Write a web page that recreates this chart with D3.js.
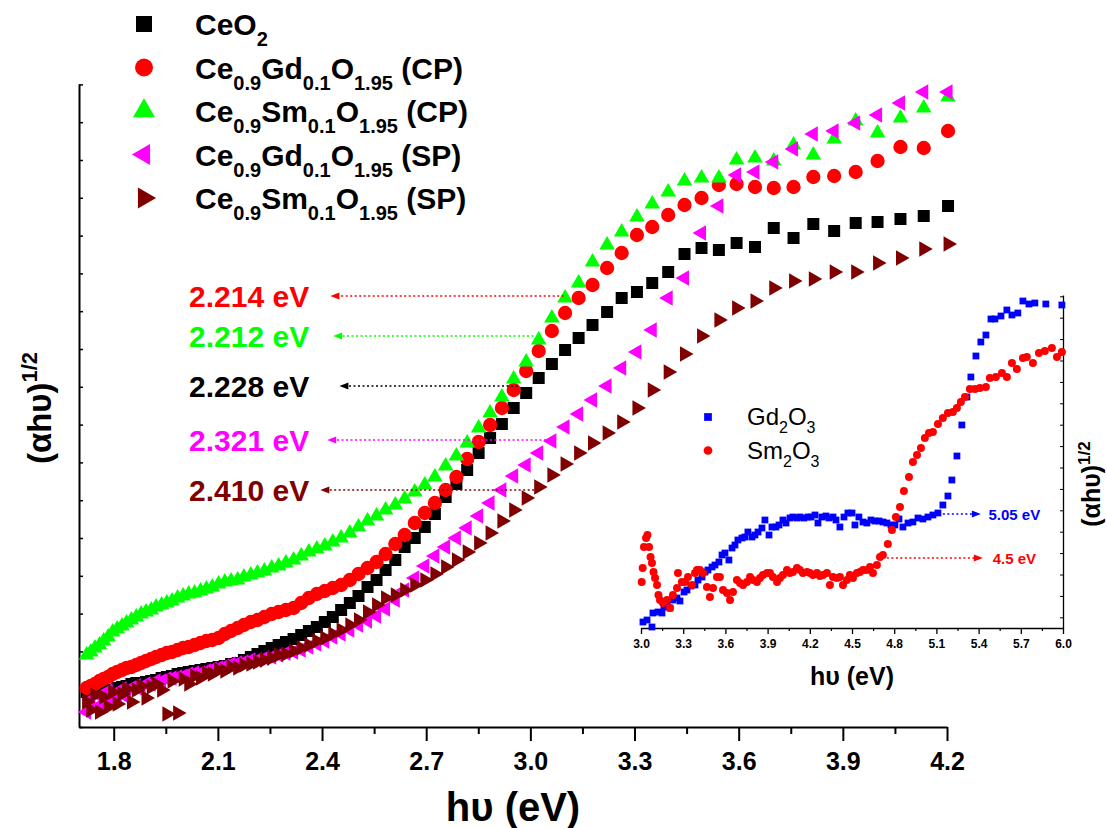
<!DOCTYPE html>
<html>
<head>
<meta charset="utf-8">
<script src="https://cdnjs.cloudflare.com/ajax/libs/d3/7.8.5/d3.min.js"></script>
<style>
  body { margin: 0; background: #fff; }
  svg { font-family: "Liberation Sans", Arial, sans-serif; }
  text { white-space: pre; }
</style>
</head>
<body>
<svg id="chart" width="1107" height="828"></svg>
<script>
// photon energy (eV), shared by the five ceria samples
const energy = [
  1.722, 1.734, 1.746, 1.759, 1.771, 1.784, 1.797, 1.810, 1.824, 1.837,
  1.851, 1.865, 1.879, 1.893, 1.908, 1.922, 1.938, 1.953, 1.968, 1.984,
  2.000, 2.016, 2.033, 2.050, 2.067, 2.084, 2.102, 2.120, 2.138, 2.157,
  2.175, 2.195, 2.214, 2.234, 2.255, 2.275, 2.296, 2.318, 2.340, 2.362,
  2.385, 2.408, 2.431, 2.455, 2.480, 2.505, 2.531, 2.557, 2.583, 2.611,
  2.638, 2.667, 2.696, 2.725, 2.756, 2.787, 2.818, 2.851, 2.884, 2.918,
  2.952, 2.988, 3.024, 3.062, 3.100, 3.139, 3.179, 3.221, 3.263, 3.307,
  3.351, 3.397, 3.444, 3.493, 3.543, 3.594, 3.647, 3.701, 3.758, 3.815,
  3.875, 3.937, 4.000, 4.066, 4.133, 4.203
];

// (alpha h nu)^1/2, arbitrary units
const ceo2 = [
  0.35, 0.35, 0.36, 0.36, 0.37, 0.37, 0.37, 0.39, 0.40, 0.41,
  0.43, 0.44, 0.44, 0.45, 0.46, 0.47, 0.49, 0.50, 0.51, 0.53,
  0.54, 0.55, 0.56, 0.57, 0.58, 0.59, 0.60, 0.61, 0.63, 0.64,
  0.67, 0.70, 0.73, 0.76, 0.79, 0.82, 0.85, 0.88, 0.92, 0.96,
  1.00, 1.05, 1.10, 1.17, 1.24, 1.31, 1.40, 1.47, 1.57, 1.67,
  1.80, 1.89, 2.00, 2.13, 2.30, 2.43, 2.57, 2.74, 2.89, 3.03,
  3.19, 3.34, 3.49, 3.63, 3.77, 3.89, 4.02, 4.15, 4.29, 4.35,
  4.44, 4.55, 4.73, 4.79, 4.77, 4.84, 4.80, 4.99, 4.89, 5.03,
  4.96, 5.04, 5.05, 5.08, 5.11, 5.21
];
const gdcCP = [
  0.39, 0.41, 0.43, 0.46, 0.48, 0.50, 0.53, 0.55, 0.57, 0.59,
  0.60, 0.62, 0.64, 0.66, 0.68, 0.70, 0.72, 0.74, 0.75, 0.77,
  0.79, 0.80, 0.82, 0.84, 0.86, 0.87, 0.89, 0.93, 0.96, 0.99,
  1.02, 1.05, 1.07, 1.10, 1.13, 1.15, 1.17, 1.19, 1.24, 1.29,
  1.33, 1.36, 1.39, 1.42, 1.47, 1.53, 1.59, 1.65, 1.73, 1.83,
  1.92, 2.04, 2.14, 2.24, 2.37, 2.50, 2.68, 2.85, 3.02, 3.19,
  3.37, 3.56, 3.76, 3.96, 4.14, 4.29, 4.42, 4.59, 4.74, 4.92,
  5.00, 5.12, 5.22, 5.29, 5.42, 5.43, 5.40, 5.39, 5.40, 5.50,
  5.51, 5.55, 5.66, 5.80, 5.79, 5.96
];
const smcCP = [
  0.72, 0.75, 0.79, 0.82, 0.86, 0.90, 0.95, 0.98, 1.01, 1.04,
  1.07, 1.10, 1.13, 1.15, 1.17, 1.20, 1.22, 1.24, 1.26, 1.29,
  1.31, 1.33, 1.34, 1.36, 1.38, 1.40, 1.43, 1.45, 1.46, 1.47,
  1.50, 1.52, 1.54, 1.56, 1.59, 1.61, 1.64, 1.67, 1.71, 1.75,
  1.78, 1.81, 1.85, 1.89, 1.94, 2.00, 2.06, 2.11, 2.17, 2.22,
  2.28, 2.35, 2.42, 2.50, 2.61, 2.71, 2.84, 2.99, 3.14, 3.30,
  3.48, 3.65, 3.87, 4.09, 4.29, 4.44, 4.65, 4.82, 4.95, 5.10,
  5.23, 5.35, 5.46, 5.49, 5.49, 5.67, 5.69, 5.66, 5.82, 5.72,
  5.88, 6.06, 5.94, 6.09, 6.19, 6.30
];
const gdcSP = [
  0.15, 0.27, 0.19, 0.31, 0.22, 0.36, 0.25, 0.32, 0.38, 0.30,
  0.39, 0.41, 0.37, 0.43, 0.43, 0.46, 0.46, 0.48, 0.49, 0.50,
  0.51, 0.53, 0.54, 0.54, 0.56, 0.58, 0.59, 0.61, 0.63, 0.64,
  0.65, 0.67, 0.67, 0.69, 0.70, 0.72, 0.74, 0.75, 0.77, 0.80,
  0.83, 0.86, 0.90, 0.93, 0.97, 1.02, 1.06, 1.11, 1.18, 1.27,
  1.37, 1.49, 1.61, 1.71, 1.80, 1.89, 1.99, 2.11, 2.24, 2.37,
  2.51, 2.62, 2.74, 2.86, 3.00, 3.13, 3.27, 3.41, 3.59, 3.75,
  3.97, 4.29, 4.49, 4.94, 5.21, 5.52, 5.55, 5.65, 5.78, 5.93,
  5.96, 6.04, 6.12, 6.24, 6.35, 6.35
];
const smcSP = [
  0.25, 0.17, 0.32, 0.15, 0.30, 0.20, 0.35, 0.23, 0.33, 0.38,
  0.25, 0.37, 0.41, 0.29, 0.40, 0.43, 0.37, 0.13, 0.46, 0.14,
  0.48, 0.43, 0.51, 0.49, 0.54, 0.53, 0.57, 0.56, 0.60, 0.59,
  0.62, 0.63, 0.65, 0.67, 0.69, 0.72, 0.73, 0.76, 0.79, 0.82,
  0.86, 0.89, 0.93, 0.97, 1.02, 1.07, 1.15, 1.22, 1.29, 1.32,
  1.37, 1.42, 1.47, 1.53, 1.60, 1.67, 1.75, 1.84, 1.94, 2.06,
  2.17, 2.29, 2.40, 2.52, 2.63, 2.74, 2.84, 2.94, 3.05, 3.19,
  3.37, 3.55, 3.73, 3.91, 4.07, 4.19, 4.26, 4.39, 4.46, 4.48,
  4.55, 4.55, 4.64, 4.69, 4.78, 4.83
];

// inset: pure rare-earth oxides
const gd2o3E = [
  3.014, 3.043, 3.078, 3.085, 3.121, 3.149, 3.163, 3.185, 3.206, 3.227,
  3.256, 3.277, 3.306, 3.327, 3.355, 3.384, 3.405, 3.434, 3.455, 3.476,
  3.505, 3.526, 3.554, 3.576, 3.597, 3.625, 3.647, 3.668, 3.689, 3.718,
  3.739, 3.760, 3.789, 3.810, 3.832, 3.860, 3.881, 3.910, 3.931, 3.959,
  3.981, 4.009, 4.031, 4.059, 4.080, 4.109, 4.130, 4.158, 4.187, 4.208,
  4.237, 4.258, 4.286, 4.315, 4.336, 4.365, 4.386, 4.414, 4.443, 4.471,
  4.500, 4.521, 4.549, 4.578, 4.606, 4.635, 4.663, 4.692, 4.720, 4.748,
  4.777, 4.805, 4.834, 4.862, 4.898, 4.933, 4.969, 5.004, 5.040, 5.075,
  5.111, 5.146, 5.182, 5.210, 5.246, 5.281, 5.317, 5.345, 5.381, 5.416,
  5.452, 5.488, 5.516, 5.559, 5.601, 5.637, 5.679, 5.715, 5.758, 5.800,
  5.878, 5.992
];
const gd2o3 = [
  0.06, 0.08, 0.01, 0.15, 0.16, 0.15, 0.21, 0.23, 0.20, 0.28,
  0.30, 0.27, 0.36, 0.38, 0.42, 0.43, 0.48, 0.51, 0.56, 0.58,
  0.61, 0.63, 0.66, 0.73, 0.75, 0.68, 0.80, 0.83, 0.88, 0.90,
  0.91, 0.96, 0.91, 0.93, 0.96, 1.00, 1.08, 0.93, 1.01, 1.01,
  1.03, 1.08, 1.05, 1.10, 1.11, 1.10, 1.11, 1.10, 1.11, 1.11,
  1.13, 1.05, 1.11, 1.12, 1.10, 1.11, 1.08, 1.01, 1.11, 1.15,
  1.15, 1.03, 1.11, 1.06, 1.05, 1.08, 1.07, 1.07, 1.06, 1.05,
  1.03, 1.03, 1.09, 1.01, 1.05, 1.06, 1.10, 1.09, 1.11, 1.13,
  1.15, 1.23, 1.32, 1.48, 1.72, 2.03, 2.31, 2.51, 2.72, 2.86,
  2.93, 3.09, 3.09, 3.12, 3.18, 3.13, 3.15, 3.27, 3.24, 3.25,
  3.24, 3.23
];
const sm2o3E = [
  3.005, 3.012, 3.021, 3.036, 3.046, 3.057, 3.068, 3.078, 3.089, 3.100,
  3.114, 3.124, 3.135, 3.156, 3.185, 3.206, 3.227, 3.256, 3.263, 3.291,
  3.313, 3.334, 3.362, 3.384, 3.398, 3.419, 3.441, 3.469, 3.490, 3.512,
  3.540, 3.561, 3.583, 3.611, 3.633, 3.654, 3.682, 3.704, 3.725, 3.753,
  3.775, 3.796, 3.824, 3.846, 3.867, 3.896, 3.917, 3.938, 3.967, 3.988,
  4.009, 4.038, 4.059, 4.080, 4.109, 4.130, 4.151, 4.180, 4.201, 4.222,
  4.251, 4.272, 4.294, 4.322, 4.343, 4.365, 4.393, 4.414, 4.436, 4.464,
  4.485, 4.507, 4.535, 4.556, 4.578, 4.606, 4.628, 4.649, 4.677, 4.699,
  4.720, 4.755, 4.784, 4.812, 4.841, 4.869, 4.905, 4.933, 4.962, 4.990,
  5.018, 5.047, 5.075, 5.111, 5.146, 5.182, 5.217, 5.246, 5.274, 5.303,
  5.338, 5.374, 5.409, 5.452, 5.480, 5.523, 5.566, 5.601, 5.637, 5.672,
  5.715, 5.743, 5.786, 5.829, 5.871, 5.921, 5.957, 5.992
];
const sm2o3 = [
  0.46, 0.60, 0.81, 0.90, 0.93, 0.81, 0.71, 0.65, 0.56, 0.50,
  0.43, 0.33, 0.28, 0.25, 0.28, 0.20, 0.33, 0.40, 0.55, 0.46,
  0.46, 0.51, 0.43, 0.55, 0.58, 0.58, 0.55, 0.41, 0.31, 0.40,
  0.51, 0.51, 0.38, 0.35, 0.28, 0.36, 0.48, 0.45, 0.43, 0.46,
  0.51, 0.48, 0.46, 0.50, 0.53, 0.55, 0.55, 0.51, 0.46, 0.50,
  0.53, 0.58, 0.55, 0.56, 0.60, 0.58, 0.55, 0.56, 0.55, 0.53,
  0.55, 0.52, 0.53, 0.55, 0.43, 0.51, 0.50, 0.51, 0.43, 0.48,
  0.53, 0.50, 0.55, 0.56, 0.58, 0.58, 0.61, 0.55, 0.63, 0.71,
  0.73, 0.84, 0.98, 1.11, 1.21, 1.37, 1.51, 1.66, 1.73, 1.80,
  1.90, 1.95, 1.96, 2.04, 2.10, 2.15, 2.16, 2.20, 2.26, 2.31,
  2.39, 2.39, 2.40, 2.41, 2.50, 2.51, 2.55, 2.51, 2.65, 2.59,
  2.70, 2.71, 2.65, 2.75, 2.77, 2.80, 2.71, 2.76
];

const mainTicks = [1.8, 2.1, 2.4, 2.7, 3.0, 3.3, 3.6, 3.9, 4.2];
const mainMinor = [1.95, 2.25, 2.55, 2.85, 3.15, 3.45, 3.75, 4.05];
const insetTicks = [3.0, 3.3, 3.6, 3.9, 4.2, 4.5, 4.8, 5.1, 5.4, 5.7, 6.0];
const insetMinor = [3.15, 3.45, 3.75, 4.05, 4.35, 4.65, 4.95, 5.25, 5.55, 5.85];
const gapLabels = ["2.214 eV", "2.212 eV", "2.228 eV", "2.321 eV", "2.410 eV"];
const insetGapLabels = ["5.05 eV", "4.5 eV"];

// legend text pieces: [text, subscript?]
const legendLabels = [
  [["CeO", 0], ["2", 1]],
  [["Ce", 0], ["0.9", 1], ["Gd", 0], ["0.1", 1], ["O", 0], ["1.95", 1], [" (CP)", 0]],
  [["Ce", 0], ["0.9", 1], ["Sm", 0], ["0.1", 1], ["O", 0], ["1.95", 1], [" (CP)", 0]],
  [["Ce", 0], ["0.9", 1], ["Gd", 0], ["0.1", 1], ["O", 0], ["1.95", 1], [" (SP)", 0]],
  [["Ce", 0], ["0.9", 1], ["Sm", 0], ["0.1", 1], ["O", 0], ["1.95", 1], [" (SP)", 0]]
];
const insetLegendLabels = [
  [["Gd", 0], ["2", 1], ["O", 0], ["3", 1]],
  [["Sm", 0], ["2", 1], ["O", 0], ["3", 1]]
];

const svg = d3.select("#chart");
const font = "'Liberation Sans', Arial, sans-serif";

// scales
const x = d3.scaleLinear().domain([1.7, 4.2]).range([79, 947]);
const y = d3.scaleLinear().domain([0, 6.43]).range([727, 84]);
const ix = d3.scaleLinear().domain([3.0, 6.0]).range([641, 1063]);
const iy = d3.scaleLinear().domain([0, 3.33]).range([628, 295]);

// ---- main axes
const gx = svg.append("g")
  .attr("transform", "translate(0,727)")
  .call(d3.axisBottom(x).tickValues(mainTicks).tickFormat(d3.format(".1f")).tickSize(14).tickSizeOuter(0));
gx.select(".domain").attr("stroke-width", 2);
gx.selectAll(".tick line").attr("stroke-width", 2);
gx.selectAll(".tick text")
  .attr("y", 43).attr("dy", null)
  .style("font", "bold 25px " + font).attr("fill", "#000");

svg.append("g")
  .attr("transform", "translate(0,727)")
  .call(d3.axisBottom(x).tickValues(mainMinor).tickFormat("").tickSize(7))
  .call(g => g.select(".domain").remove())
  .selectAll(".tick line").attr("stroke-width", 2);

const gy = svg.append("g")
  .attr("transform", "translate(79,0)")
  .call(d3.axisLeft(y).tickValues(d3.range(0, 6.44, 0.378)).tickFormat("").tickSize(-4).tickSizeOuter(0));
gy.select(".domain").attr("stroke-width", 2);
gy.selectAll(".tick line").attr("stroke-width", 1.5);

// axis titles
svg.append("text")
  .attr("x", 513).attr("y", 821)
  .attr("text-anchor", "middle")
  .style("font", "bold 40px " + font)
  .text("h\u03c5 (eV)");

const yt = svg.append("text")
  .attr("transform", "translate(51,408) rotate(-90)")
  .attr("text-anchor", "middle")
  .style("font", "bold 33px " + font);
yt.append("tspan").text("(\u03b1h\u03c5)");
yt.append("tspan").attr("dy", -14).style("font-size", "22px").text("1/2");

// ---- inset axes
const igx = svg.append("g")
  .attr("transform", "translate(0,628)")
  .call(d3.axisBottom(ix).tickValues(insetTicks).tickFormat(d3.format(".1f")).tickSize(6).tickSizeOuter(0));
igx.select(".domain").attr("stroke-width", 1.3);
igx.selectAll(".tick line").attr("stroke-width", 1.3);
igx.selectAll(".tick text")
  .attr("y", 20).attr("dy", null)
  .style("font", "bold 12px " + font).attr("fill", "#000");

svg.append("g")
  .attr("transform", "translate(0,628)")
  .call(d3.axisBottom(ix).tickValues(insetMinor).tickFormat("").tickSize(3))
  .call(g => g.select(".domain").remove())
  .selectAll(".tick line").attr("stroke-width", 1.2);

const igy = svg.append("g")
  .attr("transform", "translate(1063,0)")
  .call(d3.axisRight(iy).tickValues(d3.range(0.107, 3.33, 0.214)).tickFormat("").tickSize(-3).tickSizeOuter(0));
igy.select(".domain").attr("stroke-width", 1.3);

svg.append("text")
  .attr("x", 852).attr("y", 685)
  .attr("text-anchor", "middle")
  .style("font", "bold 25px " + font)
  .text("h\u03c5 (eV)");

const iyt = svg.append("text")
  .attr("transform", "translate(1100,484) rotate(-90)")
  .attr("text-anchor", "middle")
  .style("font", "bold 25px " + font);
iyt.append("tspan").text("(\u03b1h\u03c5)");
iyt.append("tspan").attr("dy", -10).style("font-size", "17px").text("1/2");

// ---- markers
const shapes = {
  square: { type: d3.symbolSquare, rot: 0 },
  circle: { type: d3.symbolCircle, rot: 0 },
  up: { type: d3.symbolTriangle, rot: 0 },
  left: { type: d3.symbolTriangle, rot: -90 },
  right: { type: d3.symbolTriangle, rot: 90 }
};

const series = [
  { values: ceo2, color: "#000000", shape: "square", size: 144 },
  { values: gdcCP, color: "#ff0000", shape: "circle", size: 160 },
  { values: smcCP, color: "#00ff00", shape: "up", size: 105 },
  { values: gdcSP, color: "#ff00ff", shape: "left", size: 105 },
  { values: smcSP, color: "#800000", shape: "right", size: 105 }
];

function drawPoints(g, xs, ys, xScale, yScale, shape, size, color) {
  const s = shapes[shape];
  g.append("g")
    .selectAll("path")
    .data(xs.map((e, i) => [e, ys[i]]))
    .join("path")
    .attr("d", d3.symbol().type(s.type).size(size))
    .attr("transform", d => `translate(${xScale(d[0])},${yScale(d[1])}) rotate(${s.rot})`)
    .attr("fill", color);
}

series.forEach(s => drawPoints(svg, energy, s.values, x, y, s.shape, s.size, s.color));

drawPoints(svg, gd2o3E, gd2o3, ix, iy, "square", 46, "#0000ff");
drawPoints(svg, sm2o3E, sm2o3, ix, iy, "circle", 50, "#ff0000");

// ---- legends
function richText(g, parts, bx, by, big, small, shift) {
  const t = g.append("text").attr("x", bx).attr("y", by);
  let sub = 0;
  parts.forEach(([str, isSub]) => {
    const dy = isSub === sub ? 0 : (isSub ? shift : -shift);
    sub = isSub;
    t.append("tspan").attr("dy", dy).style("font-size", (isSub ? small : big) + "px").text(str);
  });
  return t;
}

const legend = svg.append("g").style("font-weight", "bold").style("font-family", font);
const legendSizes = [256, 254, 210, 190, 190];
series.forEach((s, i) => {
  const by = 35 + i * 43.5;
  legend.append("path")
    .attr("d", d3.symbol().type(shapes[s.shape].type).size(legendSizes[i]))
    .attr("transform", `translate(144,${by - 11}) rotate(${shapes[s.shape].rot})`)
    .attr("fill", s.color);
  richText(legend, legendLabels[i], 195, by, 30, 20, 11);
});

const ilegend = svg.append("g").style("font-family", font);
[["square", "#0000ff", 60], ["circle", "#ff0000", 60]].forEach(([shape, color, size], i) => {
  const by = 425 + i * 33.5;
  ilegend.append("path")
    .attr("d", d3.symbol().type(shapes[shape].type).size(size))
    .attr("transform", `translate(708,${by - 8})`)
    .attr("fill", color);
  richText(ilegend, insetLegendLabels[i], 747, by, 24, 16, 8);
});

// ---- band-gap arrows
function drawArrow(x0, x1, yy, color) {
  const dir = Math.sign(x1 - x0);
  svg.append("line")
    .attr("x1", x0).attr("x2", x1 - dir * 6)
    .attr("y1", yy).attr("y2", yy)
    .attr("stroke", color).attr("stroke-width", 1.4)
    .attr("stroke-dasharray", "2,2.5");
  svg.append("path")
    .attr("d", `M${x1},${yy}L${x1 - dir * 9},${yy - 3.5}L${x1 - dir * 9},${yy + 3.5}Z`)
    .attr("fill", color);
}

const gapArrows = [
  { y: 4.31, from: 3.096, to: 2.424, color: "#ff0000" },
  { y: 3.91, from: 3.009, to: 2.432, color: "#00ff00" },
  { y: 3.41, from: 2.963, to: 2.450, color: "#000000" },
  { y: 2.87, from: 3.058, to: 2.415, color: "#ff00ff" },
  { y: 2.37, from: 3.024, to: 2.395, color: "#800000" }
];
gapArrows.forEach((a, i) => {
  drawArrow(x(a.from), x(a.to), y(a.y), a.color);
  svg.append("text")
    .attr("x", x(2.363)).attr("y", y(a.y) + 11)
    .attr("text-anchor", "end")
    .style("font", "bold 30px " + font)
    .attr("fill", a.color)
    .text(gapLabels[i]);
});

const insetArrows = [
  { y: 1.14, from: 5.146, to: 5.416, color: "#0000ff", tx: 5.47 },
  { y: 0.70, from: 4.748, to: 5.430, color: "#ff0000", tx: 5.50 }
];
insetArrows.forEach((a, i) => {
  drawArrow(ix(a.from), ix(a.to), iy(a.y), a.color);
  svg.append("text")
    .attr("x", ix(a.tx)).attr("y", iy(a.y) + 6)
    .style("font", "bold 15px " + font)
    .attr("fill", a.color)
    .text(insetGapLabels[i]);
});
</script>
</body>
</html>
